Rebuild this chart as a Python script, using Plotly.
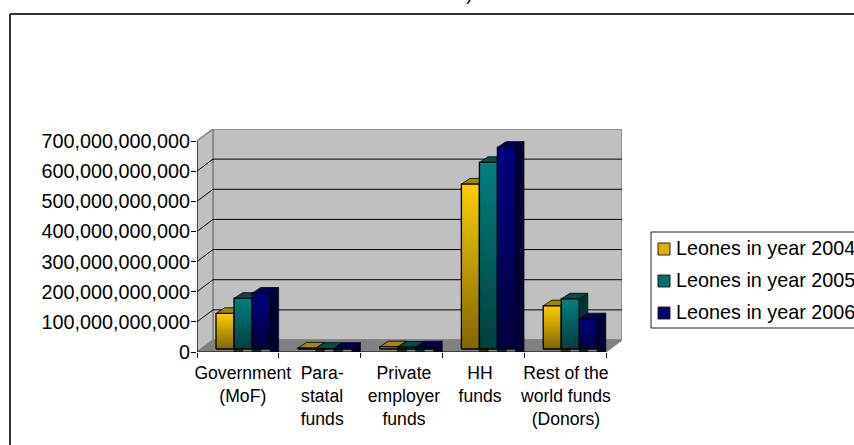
import plotly.graph_objects as go

categories = ["Government<br>(MoF)", "Para-<br>statal<br>funds", "Private<br>employer<br>funds", "HH<br>funds", "Rest of the<br>world funds<br>(Donors)"]
series_names = ["Leones in year 2004", "Leones in year 2005", "Leones in year 2006"]
values_2004 = [118e9, 3e9, 7e9, 547e9, 143e9]
values_2005 = [168e9, 2e9, 6e9, 619e9, 166e9]
values_2006 = [185e9, 2e9, 7e9, 669e9, 100e9]
y_ticks = [0, 100e9, 200e9, 300e9, 400e9, 500e9, 600e9, 700e9]
title_fragment = "2006)"

# pixel geometry
W, H = 854, 445
L, R, T, B = 197, 622, 129, 352
PXX = (606 - 197) / 5          # px per category
PXY = 211 / 700e9              # px per leone
DX, DY = 16 / PXX, 12 / PXY    # wall depth
BW = 18 / PXX                  # bar width
BX = 19 / PXX                  # bar offset in category
SX, SY = 8.7 / PXX, 5.7 / PXY  # bar depth
BASE = 3 / PXY                 # bar baseline offset
FACE = [("#FFCC00", "#806600"), ("#008080", "#003F3F"), ("#000080", "#00003F")]
TOP = ["#A68500", "#004D4D", "#000058"]
SIDE = ["#403300", "#003333", "#000033"]
LEG = ["#E0B000", "#007070", "#000070"]
LABEL_SHIFT = [0.06, 0.03, 0.03, -0.04, 0.01]

fig = go.Figure()


def poly(xs, ys, color=None, line="#000000", lw=1, grad=None):
    kw = {}
    if grad:
        kw["fillgradient"] = dict(type="vertical", start=grad[0], stop=grad[1],
                                  colorscale=[[0, grad[2]], [1, grad[3]]])
    else:
        kw["fillcolor"] = color
    fig.add_trace(go.Scatter(x=xs + xs[:1], y=ys + ys[:1], mode="lines", fill="toself",
                             line=dict(color=line, width=lw), showlegend=False,
                             hoverinfo="skip", **kw))


def seg(xs, ys, color="#000000", lw=1):
    fig.add_trace(go.Scatter(x=xs, y=ys, mode="lines", line=dict(color=color, width=lw),
                             showlegend=False, hoverinfo="skip", cliponaxis=False))


N = len(categories)
top = y_ticks[-1]
# walls and floor
poly([DX, N + DX, N + DX, DX], [DY, DY, top + DY, top + DY], "#C0C0C0", "#808080", 1.5)
poly([0, DX, DX, 0], [0, DY, top + DY, top], "#C0C0C0", "#808080", 1.5)
poly([0, N, N + DX, DX], [0, 0, DY, DY], "#808080", "#808080", 1)
for v in y_ticks[1:-1]:
    seg([DX, N + DX], [v + DY, v + DY])
    seg([0, DX], [v, v + DY])

# bars
for i in range(N):
    for s, vals in enumerate([values_2004, values_2005, values_2006]):
        v = vals[i]
        x0 = i + BX + s * BW
        x1 = x0 + BW
        y0 = BASE
        y1 = BASE + v
        poly([x1, x1 + SX, x1 + SX, x1], [0, 0, y1 + SY, y1], SIDE[s], "#000000", 0.5)
        poly([x0, x0 + SX, x1 + SX, x1], [y1, y1 + SY, y1 + SY, y1], TOP[s], "#000000", 0.8)
        poly([x0, x1, x1, x0], [y0, y0, y1, y1], None, "#000000", 1.3,
             grad=(y1, y0, FACE[s][0], FACE[s][1]))

# front axis lines
seg([0, 0], [0, top])
seg([0, N], [0, 0])
seg([N, N + DX], [0, DY], "#808080", 1)

px = lambda p: (p - L) / (R - L)
py = lambda p: (B - p) / (B - T)

shapes = [
    dict(type="line", xref="paper", yref="paper", x0=px(10), x1=px(10), y0=py(14), y1=py(445),
         line=dict(color="#333333", width=2)),
    dict(type="line", xref="paper", yref="paper", x0=px(10), x1=px(854), y0=py(14), y1=py(14),
         line=dict(color="#333333", width=2)),
    # legend box
    dict(type="rect", xref="paper", yref="paper", x0=px(651), x1=px(860), y0=py(232), y1=py(328),
         fillcolor="#FFFFFF", line=dict(color="#222222", width=1)),
]
annotations = [dict(text=title_fragment, xref="paper", yref="paper", x=px(448), y=py(6),
                    xanchor="center", yanchor="bottom", showarrow=False, font=dict(size=19))]
for s, name in enumerate(series_names):
    cy = 249 + 32 * s
    shapes.append(dict(type="rect", xref="paper", yref="paper", x0=px(658), x1=px(670),
                       y0=py(cy - 6), y1=py(cy + 6), fillcolor=LEG[s],
                       line=dict(color="#222222", width=1)))
    annotations.append(dict(text=name, xref="paper", yref="paper", x=px(676), y=py(cy - 1),
                            xanchor="left", yanchor="middle", xshift=-2, showarrow=False,
                            font=dict(size=19.8), align="left"))

fig.update_layout(
    width=W, height=H, margin=dict(l=L, r=W - R, t=T, b=H - B, autoexpand=False),
    paper_bgcolor="#FFFFFF", plot_bgcolor="#FFFFFF",
    font=dict(family="Liberation Sans, Arial, sans-serif", color="#000000", size=17),
    xaxis=dict(range=[0, N + DX], showgrid=False, zeroline=False, showline=False,
               tickmode="array",
               tickvals=[i + 0.5 + LABEL_SHIFT[i] for i in range(N)], ticktext=categories,
               ticks="outside", ticklen=5, tickcolor="rgba(0,0,0,0)", tickangle=0,
               tickfont=dict(size=17.6),
               minor=dict(tickmode="array", tickvals=list(range(N + 1)), ticks="outside",
                          ticklen=5, tickcolor="#000000", tickwidth=1, showgrid=False)),
    yaxis=dict(range=[0, top + DY], showgrid=False, zeroline=False, showline=False,
               tickmode="array", tickvals=y_ticks, tickformat=",d",
               ticks="outside", ticklen=5, tickcolor="#000000", tickwidth=1,
               ticklabelstandoff=-3, tickfont=dict(size=19.8)),
    showlegend=False,
    shapes=shapes,
    annotations=annotations,
)

fig.write_html("out.html", config={"displayModeBar": False},
               post_script="document.body.style.margin='0';document.body.style.overflow='hidden';")
